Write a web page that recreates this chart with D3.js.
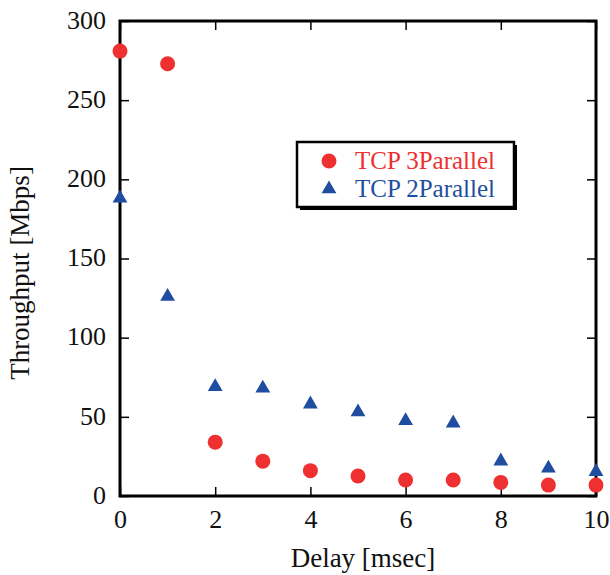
<!DOCTYPE html>
<html>
<head>
<meta charset="utf-8">
<script src="https://cdn.jsdelivr.net/npm/d3@7"></script>
<style>
  body { margin: 0; background: #fff; }
</style>
</head>
<body>
<svg id="chart"></svg>
<script>
// data
const delays = [0, 1, 2, 3, 4, 5, 6, 7, 8, 9, 10];
const tcp3Parallel = [281, 273, 34, 22, 16, 12.6, 10.1, 10.1, 8.6, 6.9, 6.9];
const tcp2Parallel = [188, 126, 69, 68, 58, 53, 47.5, 46, 22, 17.5, 15.4];
const xTicks = [0, 2, 4, 6, 8, 10];
const yTicks = [0, 50, 100, 150, 200, 250, 300];

const width = 610, height = 575;
const margin = {top: 21, right: 14, bottom: 79, left: 120};
const innerW = width - margin.left - margin.right;
const innerH = height - margin.top - margin.bottom;
const red = '#ee3030', blue = '#1f4ea0';
const serif = '"Liberation Serif", "Times New Roman", serif';
const fs = 26;

const svg = d3.select('#chart').attr('width', width).attr('height', height);
const g = svg.append('g').attr('transform', `translate(${margin.left},${margin.top})`);

const x = d3.scaleLinear().domain([0, 10]).range([0, innerW]);
const y = d3.scaleLinear().domain([0, 300]).range([innerH, 0]);

// axes, ticks point inward on all four sides
const tickLen = 9;
g.append('g').attr('transform', `translate(0,${innerH})`)
    .call(d3.axisBottom(x).tickValues(xTicks).tickSizeInner(-tickLen).tickSizeOuter(0).tickPadding(14));
g.append('g').attr('class', 'yaxis')
    .call(d3.axisLeft(y).tickValues(yTicks).tickSizeInner(-tickLen).tickSizeOuter(0).tickPadding(14));
g.append('g')
    .call(d3.axisTop(x).tickValues(xTicks).tickSizeInner(-tickLen).tickSizeOuter(0).tickFormat(''));
g.append('g').attr('transform', `translate(${innerW},0)`)
    .call(d3.axisRight(y).tickValues(yTicks).tickSizeInner(-tickLen).tickSizeOuter(0).tickFormat(''));

g.selectAll('.domain').remove();
g.selectAll('.tick line').attr('stroke', '#000').attr('stroke-width', 1.5);
g.selectAll('.tick text').attr('fill', '#111')
    .style('font-family', serif).style('font-size', fs + 'px');
g.selectAll('.yaxis .tick text').attr('dy', '0.28em');

// frame
g.append('rect')
    .attr('width', innerW).attr('height', innerH)
    .attr('fill', 'none').attr('stroke', '#000').attr('stroke-width', 3);

// points
const circles = delays.map((d, i) => ({x: d, y: tcp3Parallel[i]}));
const tris = delays.map((d, i) => ({x: d, y: tcp2Parallel[i]}));
const triSym = d3.symbol().type(d3.symbolTriangle).size(95);

g.selectAll('.tri').data(tris).join('path')
    .attr('class', 'tri')
    .attr('d', triSym)
    .attr('transform', d => `translate(${x(d.x)},${y(d.y)})`)
    .attr('fill', blue);

g.selectAll('.dot').data(circles).join('circle')
    .attr('class', 'dot')
    .attr('cx', d => x(d.x)).attr('cy', d => y(d.y))
    .attr('r', 7.5).attr('fill', red);

// axis titles
svg.append('text')
    .attr('x', 363).attr('y', 567)
    .attr('text-anchor', 'middle').attr('fill', '#111')
    .style('font-family', serif).style('font-size', '27px')
    .text('Delay [msec]');
svg.append('text')
    .attr('transform', 'translate(29,273) rotate(-90)')
    .attr('text-anchor', 'middle').attr('fill', '#111')
    .style('font-family', serif).style('font-size', '27px')
    .text('Throughput [Mbps]');

// legend
const lg = svg.append('g').attr('transform', 'translate(297,142)');
const lw = 217, lh = 65;
lg.append('rect').attr('x', 3).attr('y', 3).attr('width', lw).attr('height', lh).attr('fill', '#000');
lg.append('rect').attr('width', lw).attr('height', lh)
    .attr('fill', '#fff').attr('stroke', '#000').attr('stroke-width', 2.5);
lg.append('circle').attr('cx', 32).attr('cy', 19).attr('r', 7.5).attr('fill', red);
lg.append('path').attr('d', triSym).attr('transform', 'translate(32,47)').attr('fill', blue);
lg.append('text').attr('x', 58).attr('y', 27).attr('fill', red)
    .style('font-family', serif).style('font-size', '25px').text('TCP 3Parallel');
lg.append('text').attr('x', 58).attr('y', 55).attr('fill', blue)
    .style('font-family', serif).style('font-size', '25px').text('TCP 2Parallel');
</script>
</body>
</html>
